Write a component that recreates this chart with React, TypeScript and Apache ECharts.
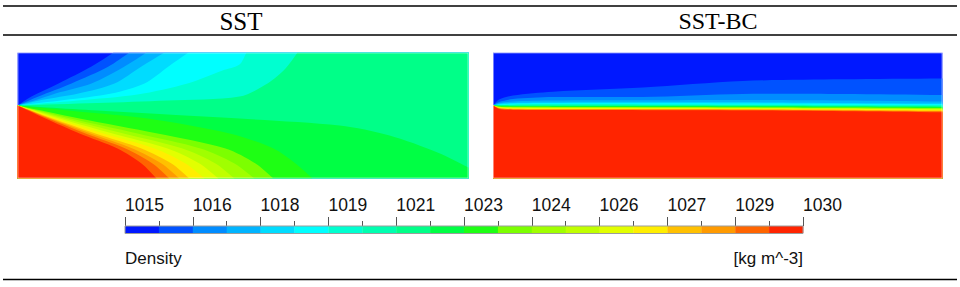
import React, { useEffect, useRef } from "react";
import * as echarts from "echarts";

// ---------- data ----------
const TITLES = ["SST", "SST-BC"];
const QUANTITY = "Density";
const UNIT = "[kg m^-3]";
const TICK_LABELS = ["1015", "1016", "1018", "1019", "1021", "1023", "1024", "1026", "1027", "1029", "1030"];

// 20 colour bands of the legend (low -> high)
const BAND_COLORS = [
  "#0018ff", "#0052ff", "#008cff", "#00b4ff", "#00dcff",
  "#00ffff", "#00ffd0", "#00ffb0", "#00ff88", "#00ff44",
  "#1eff14", "#7cff00", "#a0ff00", "#c0ff00", "#e2ff00",
  "#ffee00", "#ffc000", "#ff9a00", "#ff6400", "#ff2400",
];

// SST panel (x: 0..451 along the plate, y: 0..126 height), contour lines
const SST_W = 451;
const SST_H = 126;
// upper contours (vertex -> top edge); band number filled on their lower side
const SST_UPPER_BANDS = [2, 3, 4, 5, 6, 7, 9];
const SST_UPPER = [
  [[0, 73], [14, 82], [41, 95], [74, 112], [96, 126]],
  [[0, 73], [21, 82], [54, 95], [91, 112], [112, 126]],
  [[0, 73], [20, 79], [38, 85], [74, 95], [107, 112], [129, 126]],
  [[0, 73], [24, 78.5], [61, 85], [97, 95], [124, 112], [147, 126]],
  [[0, 73], [47, 78.5], [94, 85], [127, 95], [151, 112], [171, 126]],
  [[0, 73], [60, 78], [120, 84], [170, 95], [205, 108], [222, 114], [229, 126]],
  [[0, 73], [80, 75.5], [150, 78], [222, 82], [250, 95], [268, 110], [280, 126]],
];
// lower contours (vertex -> bottom / right edge)
const SST_LOWER_BANDS = [10, 11, 12, 13, 14, 15, 16, 17, 18, 19, 20];
const SST_LOWER = [
  [[0, 73], [30, 71], [80, 68], [150, 64], [222, 60], [322, 53], [372, 43], [420, 26], [451, 11]],
  [[0, 73], [60, 67], [130, 60], [212, 45], [256, 30], [278, 15], [295, 0]],
  [[0, 73], [62, 60], [140, 45], [208, 30], [238, 15], [256, 0]],
  [[0, 73], [53, 60], [120, 45], [183, 30], [217, 15], [237, 0]],
  [[0, 73], [47, 60], [106, 45], [165, 30], [198, 15], [217, 0]],
  [[0, 73], [42, 60], [95, 45], [150, 30], [182, 15], [201, 0]],
  [[0, 73], [38, 60], [86, 45], [137, 30], [168, 15], [187, 0]],
  [[0, 73], [35, 60], [78, 45], [124, 30], [154, 15], [172, 0]],
  [[0, 73], [33, 60], [73, 45], [115, 30], [144, 15], [162, 0]],
  [[0, 73], [31, 60], [68, 45], [108, 30], [135, 15], [152, 0]],
  [[0, 73], [28, 60], [62, 45], [100, 30], [124, 15], [139, 0]],
];

// SST-BC panel: contour heights at fixed stations
const BC_W = 450;
const BC_H = 126;
const BC_X = [0, 6, 20, 60, 150, 250, 350, 450];
const BC_BANDS = [2, 3, 4, 5, 6, 7, 8, 9, 10, 11, 12, 13, 14, 15, 16, 17, 18, 19, 20];
const BC_Y = [
  [73, 79, 83, 86.8, 91, 97.5, 99.2, 100],
  [73, 76.5, 79.5, 81.5, 81.5, 84.5, 84.5, 83.5],
  [73, 75.5, 77, 78, 78.2, 78.5, 78, 77],
  [73, 74.6, 75.6, 76, 76.2, 76.2, 75.6, 75],
  [73, 74, 74.8, 75.2, 75.2, 75, 74.6, 74.2],
  [73, 73.6, 74.1, 74.4, 74.3, 74.1, 73.8, 73.4],
  [73, 73.3, 73.6, 73.7, 73.6, 73.4, 73.1, 72.7],
  [73, 73, 73.1, 73.1, 73, 72.8, 72.5, 72.1],
  [73, 72.7, 72.6, 72.5, 72.4, 72.2, 71.9, 71.5],
  [73, 72.4, 72.1, 72, 71.9, 71.7, 71.4, 70.9],
  [73, 72.1, 71.7, 71.6, 71.5, 71.3, 70.9, 70.4],
  [73, 71.8, 71.3, 71.2, 71.1, 70.9, 70.5, 69.9],
  [73, 71.5, 71, 70.8, 70.7, 70.5, 70.1, 69.4],
  [73, 71.2, 70.6, 70.4, 70.3, 70.1, 69.7, 68.9],
  [73, 70.9, 70.2, 70, 69.9, 69.7, 69.2, 68.4],
  [73, 70.6, 69.8, 69.6, 69.5, 69.3, 68.8, 67.9],
  [73, 70.3, 69.4, 69.2, 69.1, 68.9, 68.3, 67.4],
  [73, 70, 69, 68.8, 68.7, 68.5, 67.8, 66.9],
  [73, 69.6, 68.6, 68.4, 68.3, 68.1, 67.3, 66.3],
];

// ---------- helpers ----------
type Pt = number[];
type Region = { pts: Pt[]; color: string };

function rectRegion(W: number, H: number): Region {
  const c = [[0, 0], [0, H], [W, H], [W, 0]];
  return { pts: c.flatMap((p) => [p, p]), color: BAND_COLORS[0] };
}

function curveRegion(curve: Pt[], band: number, W: number, H: number): Region {
  const end = curve[curve.length - 1];
  let corners: Pt[];
  if (end[1] >= H) corners = [[W, H], [W, 0], [0, 0]];
  else if (end[0] >= W) corners = [[W, 0], [0, 0]];
  else corners = [[0, 0]];
  const pts = [curve[0], ...curve, end, ...corners.flatMap((p) => [p, p])];
  return { pts, color: BAND_COLORS[band - 1] };
}

function buildSST(): Region[] {
  const r: Region[] = [rectRegion(SST_W, SST_H)];
  SST_UPPER.forEach((c, i) => r.push(curveRegion(c, SST_UPPER_BANDS[i], SST_W, SST_H)));
  SST_LOWER.forEach((c, i) => r.push(curveRegion(c, SST_LOWER_BANDS[i], SST_W, SST_H)));
  return r;
}

function buildBC(): Region[] {
  const r: Region[] = [rectRegion(BC_W, BC_H)];
  BC_Y.forEach((ys, i) => {
    const curve = ys.map((y, j) => [BC_X[j], y]);
    r.push(curveRegion(curve, BC_BANDS[i], BC_W, BC_H));
  });
  return r;
}

function contourSeries(regions: Region[], idx: number) {
  return {
    type: "custom",
    coordinateSystem: "cartesian2d",
    xAxisIndex: idx,
    yAxisIndex: idx,
    clip: true,
    silent: true,
    data: regions.map((_, i) => [i]),
    renderItem: (params: any, api: any) => {
      const reg = regions[params.dataIndex];
      return {
        type: "polygon",
        shape: { points: reg.pts.map((p) => api.coord(p)), smooth: 0.3 },
        style: { fill: reg.color },
      };
    },
  };
}

const SANS = '"Liberation Sans", Arial, sans-serif';
const SERIF = '"Liberation Serif", "Times New Roman", serif';

export default function App() {
  const ref = useRef<HTMLDivElement>(null);
  useEffect(() => {
    if (!ref.current) return;
    const chart = echarts.init(ref.current, undefined, { renderer: "svg" });
    const sst = buildSST();
    const bc = buildBC();
    const hidden = { show: false };
    const option: any = {
      animation: false,
      backgroundColor: "#ffffff",
      grid: [
        { left: 17.5, top: 52.5, width: 451, height: 126 },
        { left: 493, top: 52.5, width: 449.5, height: 126 },
        { left: 125, top: 226, width: 678, height: 7 },
      ],
      xAxis: [
        { gridIndex: 0, type: "value", min: 0, max: SST_W, ...hidden },
        { gridIndex: 1, type: "value", min: 0, max: BC_W, ...hidden },
        {
          gridIndex: 2,
          type: "value",
          min: 0,
          max: BAND_COLORS.length,
          interval: 2,
          position: "top",
          axisLine: { show: true, onZero: false, lineStyle: { color: "rgba(0,0,0,0)", width: 1 } },
          axisTick: { show: true, inside: false, length: 9, lineStyle: { color: "#555", width: 1 } },
          minorTick: { show: true, splitNumber: 2, length: 5, lineStyle: { color: "#555", width: 1 } },
          splitLine: { show: false },
          minorSplitLine: { show: false },
          axisLabel: {
            show: true,
            formatter: (v: number) => TICK_LABELS[Math.round(v / 2)] ?? "",
            margin: 12,
            align: "left",
            fontSize: 17.5,
            fontFamily: SANS,
            color: "#111",
          },
        },
      ],
      yAxis: [
        { gridIndex: 0, type: "value", min: 0, max: SST_H, ...hidden },
        { gridIndex: 1, type: "value", min: 0, max: BC_H, ...hidden },
        { gridIndex: 2, type: "value", min: 0, max: 1, ...hidden },
      ],
      series: [
        contourSeries(sst, 0),
        contourSeries(bc, 1),
        {
          type: "custom",
          coordinateSystem: "cartesian2d",
          xAxisIndex: 2,
          yAxisIndex: 2,
          silent: true,
          data: BAND_COLORS.map((_, i) => [i]),
          renderItem: (params: any, api: any) => {
            const i = params.dataIndex;
            const p0 = api.coord([i, 1]);
            const p1 = api.coord([i + 1, 0]);
            return {
              type: "rect",
              shape: { x: p0[0], y: p0[1], width: p1[0] - p0[0] + 0.3, height: p1[1] - p0[1] },
              style: { fill: BAND_COLORS[i] },
            };
          },
        },
      ],
      graphic: [
        { type: "line", shape: { x1: 3, y1: 6, x2: 957, y2: 6 }, style: { stroke: "#000", lineWidth: 1.4 } },
        { type: "line", shape: { x1: 3, y1: 35, x2: 957, y2: 35 }, style: { stroke: "#000", lineWidth: 1.4 } },
        { type: "line", shape: { x1: 3, y1: 279.5, x2: 957, y2: 279.5 }, style: { stroke: "#000", lineWidth: 1.4 } },
        {
          type: "text",
          style: { text: TITLES[0], x: 241, y: 21, align: "center", verticalAlign: "middle", fontSize: 25, fontFamily: SERIF, fill: "#000" },
        },
        {
          type: "text",
          style: { text: TITLES[1], x: 718, y: 21, align: "center", verticalAlign: "middle", fontSize: 24, fontFamily: SERIF, fill: "#000" },
        },
        {
          type: "rect",
          z: 10,
          shape: { x: 18, y: 53, width: 450, height: 125 },
          style: { fill: "none", stroke: "rgba(255,255,255,0.45)", lineWidth: 1 },
        },
        {
          type: "rect",
          z: 10,
          shape: { x: 493.5, y: 53, width: 448.5, height: 125 },
          style: { fill: "none", stroke: "rgba(255,255,255,0.45)", lineWidth: 1 },
        },
        {
          type: "rect",
          z: 10,
          shape: { x: 125, y: 226, width: 678, height: 7.5 },
          style: { fill: "none", stroke: "#9c9c9c", lineWidth: 1 },
        },
        {
          type: "text",
          style: { text: QUANTITY, x: 125, y: 258, align: "left", verticalAlign: "middle", fontSize: 17, fontFamily: SANS, fill: "#111" },
        },
        {
          type: "text",
          style: { text: UNIT, x: 803, y: 258, align: "right", verticalAlign: "middle", fontSize: 17, fontFamily: SANS, fill: "#111" },
        },
      ],
    };
    chart.setOption(option);
    return () => chart.dispose();
  }, []);
  return (
    <div
      ref={ref}
      style={{ position: "absolute", left: 0, top: 0, width: 960, height: 287, background: "#fff" }}
    />
  );
}
